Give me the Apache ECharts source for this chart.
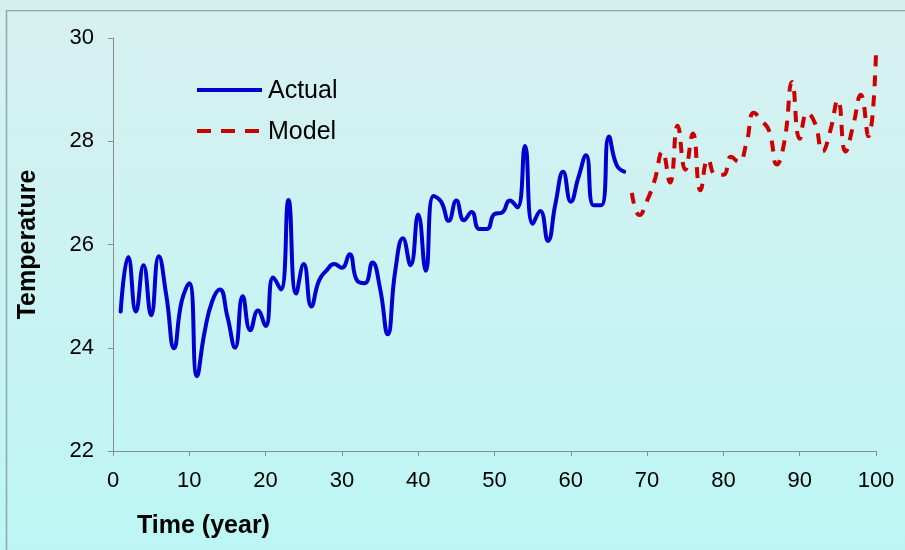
<!DOCTYPE html>
<html>
<head>
<meta charset="utf-8">
<script src="https://cdn.jsdelivr.net/npm/echarts@6/dist/echarts.min.js"></script>
<style>
html,body{margin:0;padding:0;width:905px;height:550px;overflow:hidden;}
#c{width:905px;height:550px;}
</style>
</head>
<body>
<div id="c"></div>
<script>
// Data
const actualYears = [1,2,3,4,5,6,7,8,9,10,11,12,13,14,15,16,17,18,19,20,21,22,23,24,25,26,27,28,29,30,31,32,33,34,35,36,37,38,39,40,41,42,43,44,45,46,47,48,49,50,51,52,53,54,55,56,57,58,59,60,61,62,63,64,65,66,67];
const actualValues = [24.70,25.76,24.70,25.60,24.63,25.77,25.00,23.99,24.90,25.25,23.45,24.30,24.90,25.13,24.60,24.00,25.00,24.34,24.72,24.42,25.36,25.13,26.86,25.05,25.62,24.80,25.30,25.50,25.62,25.55,25.81,25.30,25.25,25.65,25.15,24.26,25.50,26.12,25.60,26.58,25.49,26.94,26.83,26.46,26.85,26.47,26.63,26.30,26.30,26.59,26.62,26.85,26.72,27.91,26.40,26.65,26.07,26.80,27.41,26.83,27.30,27.73,26.76,26.76,28.09,27.54,27.41];
const modelYears = [68,69,70,71,72,73,74,75,76,77,78,79,80,81,82,83,84,85,86,87,88,89,90,91,92,93,94,95,96,97,98,99,100];
const modelValues = [27.00,26.57,26.85,27.25,27.80,27.20,28.30,27.45,28.15,27.05,27.65,27.35,27.35,27.70,27.60,27.95,28.55,28.40,28.20,27.55,28.00,29.15,28.05,28.55,28.35,27.80,28.20,28.80,27.80,28.30,28.90,28.10,29.70];
const xTicks = {min:0, max:100, interval:10};
const yTicks = {min:22, max:30, interval:2};
const seriesNames = ['Actual','Model'];

const chart = echarts.init(document.getElementById('c'), null, {renderer:'canvas'});
const font = '"Liberation Sans", Arial, sans-serif';
const axisColor = '#8c8c8c';

chart.setOption({
  animation:false,
  backgroundColor:{type:'linear',x:0,y:0,x2:0,y2:1,colorStops:[{offset:0,color:'#d8f0f0'},{offset:1,color:'#bcf6f4'}]},
  grid:{left:113,right:29,top:38,bottom:99,containLabel:false},
  xAxis:{type:'value',min:xTicks.min,max:xTicks.max,interval:xTicks.interval,
    axisLine:{show:true,lineStyle:{color:axisColor,width:1}},
    axisTick:{show:true,length:5,lineStyle:{color:axisColor}},
    splitLine:{show:false},
    axisLabel:{color:'#000',fontFamily:font,fontSize:22,margin:19},
    name:'Time (year)',nameLocation:'start',
    nameTextStyle:{fontFamily:font,fontSize:25,fontWeight:'bold',color:'#000',align:'left',verticalAlign:'top',padding:[63,0,0,39]}
  },
  yAxis:{type:'value',min:yTicks.min,max:yTicks.max,interval:yTicks.interval,
    axisLine:{show:true,lineStyle:{color:axisColor,width:1}},
    axisTick:{show:true,length:5,lineStyle:{color:axisColor}},
    splitLine:{show:false},
    axisLabel:{color:'#000',fontFamily:font,fontSize:22,margin:19},
    name:'Temperature',nameLocation:'middle',nameGap:72,nameRotate:90,
    nameTextStyle:{fontFamily:font,fontSize:25,fontWeight:'bold',color:'#000'}
  },
  graphic:[
    {type:'rect',shape:{x:6.5,y:10.5,width:1000,height:1000},style:{fill:'none',stroke:'#8fa8a8',lineWidth:1.5},silent:true,z:-1},
    {type:'rect',shape:{x:0,y:0,width:905,height:10},style:{fill:'#d6eeee'},silent:true,z:-1},
    {type:'line',shape:{x1:197,y1:90,x2:262,y2:90},style:{stroke:'#0000d0',lineWidth:4}},
    {type:'text',x:268,y:91,style:{text:seriesNames[0],font:'25px '+font,fill:'#000',textVerticalAlign:'middle'}},
    {type:'line',shape:{x1:197,y1:131,x2:262,y2:131},style:{stroke:'#cc0000',lineWidth:4,lineDash:[14,10]}},
    {type:'text',x:268,y:132,style:{text:seriesNames[1],font:'25px '+font,fill:'#000',textVerticalAlign:'middle'}}
  ],
  series:[
    {name:seriesNames[0],type:'line',data:actualYears.map((x,i)=>[x,actualValues[i]]),
     smooth:0.5,showSymbol:false,lineStyle:{color:'#0000d0',width:4,cap:'round',join:'round'}},
    {name:seriesNames[1],type:'line',data:modelYears.map((x,i)=>[x,modelValues[i]]),
     smooth:0.5,showSymbol:false,lineStyle:{color:'#cc0000',width:4,type:[11,9]}}
  ]
});
</script>
</body>
</html>
